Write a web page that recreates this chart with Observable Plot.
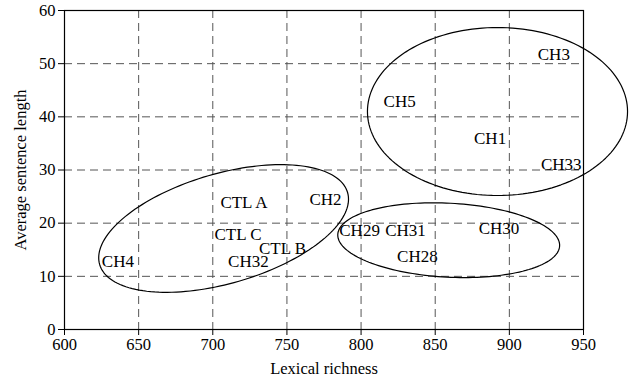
<!DOCTYPE html>
<html>
<head>
<meta charset="utf-8">
<script src="https://cdn.jsdelivr.net/npm/d3@7"></script>
<script src="https://cdn.jsdelivr.net/npm/@observablehq/plot@0.6"></script>
<style>
  html, body { margin: 0; padding: 0; background: #fff; }
</style>
</head>
<body>
<div id="chart"></div>
<script>
// Text labels and their positions
const labels   = ["CH3", "CH5", "CH1", "CH33", "CTL A", "CH2", "CTL C", "CTL B", "CH32", "CH4", "CH29", "CH31", "CH30", "CH28"];
const lexical  = [930, 826, 887, 935, 721, 776, 717, 747, 724, 636, 799, 830, 893, 838];
const sentence = [51.7, 42.9, 36.0, 31.0, 23.9, 24.4, 17.8, 15.3, 12.7, 12.8, 18.6, 18.6, 18.9, 13.7];

// Tick values
const xTicks = [600, 650, 700, 750, 800, 850, 900, 950];
const yTicks = [0, 10, 20, 30, 40, 50, 60];

// Cluster ellipses: centre and two conjugate semi-axis vectors (data units)
const ellipseCx = [707.3, 859.1, 892];
const ellipseCy = [19.0, 16.8, 41];
const ellipseUx = [83.6, 74.8, 87.7];
const ellipseUy = [6.77, -1.09, 0];
const ellipseVx = [-10.3, 1.31, 0];
const ellipseVy = [9.92, 6.95, 15.8];

const points = labels.map((t, i) => ({label: t, x: lexical[i], y: sentence[i]}));

const outline = [];
ellipseCx.forEach((cx, k) => {
  const n = 160;
  for (let j = 0; j <= n; j++) {
    const t = (2 * Math.PI * j) / n;
    outline.push({
      id: k,
      x: cx + ellipseUx[k] * Math.cos(t) + ellipseVx[k] * Math.sin(t),
      y: ellipseCy[k] + ellipseUy[k] * Math.cos(t) + ellipseVy[k] * Math.sin(t)
    });
  }
});

const font = "'Liberation Serif', 'DejaVu Serif', serif";

const chart = Plot.plot({
  width: 629,
  height: 385,
  marginLeft: 64,
  marginRight: 46,
  marginTop: 10,
  marginBottom: 56,
  style: {fontFamily: font, background: "#fff", color: "#000"},
  x: {domain: [600, 950]},
  y: {domain: [0, 60]},
  marks: [
    Plot.gridX(xTicks.slice(1, -1), {stroke: "#555", strokeOpacity: 1, strokeDasharray: "8,5", strokeWidth: 1}),
    Plot.gridY(yTicks.slice(1, -1), {stroke: "#555", strokeOpacity: 1, strokeDasharray: "8,5", strokeWidth: 1}),
    Plot.frame({stroke: "#000", strokeWidth: 1.2}),
    Plot.axisX(xTicks, {tickSize: 6, tickPadding: 3, fontSize: 16.5, label: "Lexical richness", labelAnchor: "center", labelOffset: 44, labelArrow: "none"}),
    Plot.axisY(yTicks, {tickSize: 6, tickPadding: 3, fontSize: 16.5, label: "Average sentence length", labelAnchor: "center", labelOffset: 50, labelArrow: "none"}),
    Plot.line(outline, {x: "x", y: "y", z: "id", stroke: "#000", strokeWidth: 1.2, curve: "linear"}),
    Plot.text(points, {x: "x", y: "y", text: "label", fontSize: 17, fill: "#000"})
  ]
});

document.getElementById("chart").appendChild(chart);
</script>
</body>
</html>
